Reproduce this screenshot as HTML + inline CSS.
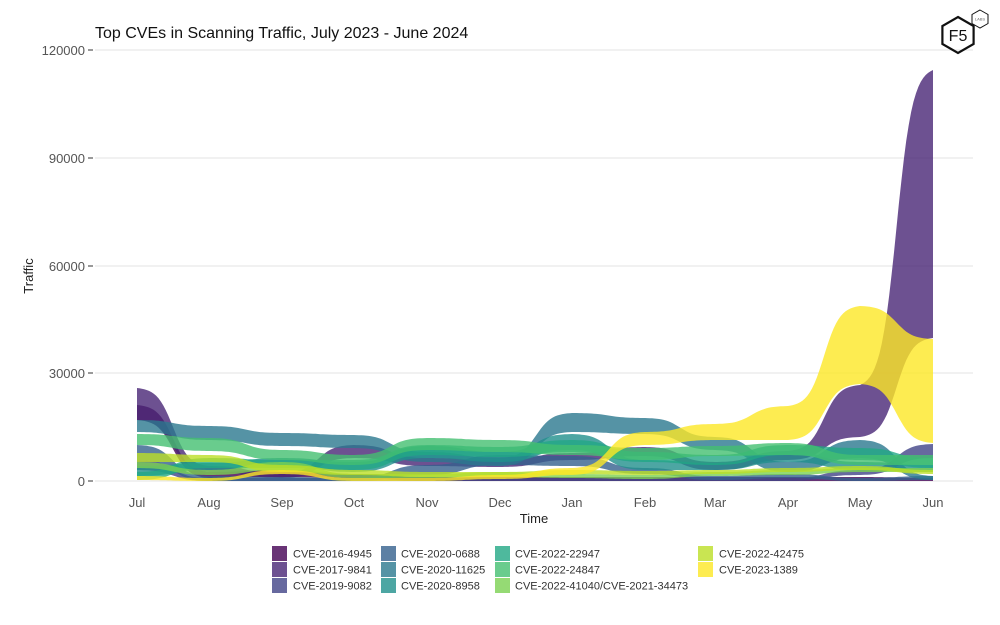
<!DOCTYPE html>
<html><head><meta charset="utf-8"><style>
body{margin:0;background:#fff;}
svg{display:block;font-family:"Liberation Sans",sans-serif;}
</style></head><body>
<svg id="s" width="1000" height="625" viewBox="0 0 1000 625">
<rect width="1000" height="625" fill="#fff"/>
<text x="95" y="38" font-size="16" fill="#111">Top CVEs in Scanning Traffic, July 2023 - June 2024</text>
<g stroke="#e3e3e3" stroke-width="1">
<line x1="95" x2="973" y1="50" y2="50"/><line x1="95" x2="973" y1="158" y2="158"/>
<line x1="95" x2="973" y1="266" y2="266"/><line x1="95" x2="973" y1="373" y2="373"/>
<line x1="95" x2="973" y1="481" y2="481"/>
</g>
<g stroke="#333" stroke-width="1"><line x1="88" x2="93" y1="50" y2="50"/><line x1="88" x2="93" y1="158" y2="158"/><line x1="88" x2="93" y1="266" y2="266"/><line x1="88" x2="93" y1="373" y2="373"/><line x1="88" x2="93" y1="481" y2="481"/></g>
<g font-size="13" fill="#555" text-anchor="end">
<text x="85" y="55">120000</text><text x="85" y="163">90000</text><text x="85" y="271">60000</text><text x="85" y="378">30000</text><text x="85" y="486">0</text>
</g>
<text transform="translate(33,276) rotate(-90)" font-size="13" text-anchor="middle" fill="#222">Traffic</text>
<g font-size="13" fill="#555" text-anchor="middle" id="mx"></g>
<text x="534" y="523" font-size="13" text-anchor="middle" fill="#222">Time</text>
<g id="rib"></g>
<g id="leg" font-size="11" fill="#333"></g>
<g transform="translate(958,35)" fill="none" stroke="#111">
<polygon points="0,-18 15.6,-9 15.6,9 0,18 -15.6,9 -15.6,-9" stroke-width="2.2"/>
<text x="0" y="6" font-size="16" fill="#111" stroke="none" text-anchor="middle">F5</text>
<polygon points="22,-25 30,-20.5 30,-11.5 22,-7 14,-11.5 14,-20.5" fill="#fff" stroke-width="1"/>
<text x="22" y="-14.5" font-size="4" fill="#666" stroke="none" text-anchor="middle">LABS</text>
</g>
</svg>
<script>
var X=[137,209,282,354,427,500,572,645,715,788,860,933];
var M=["Jul","Aug","Sep","Oct","Nov","Dec","Jan","Feb","Mar","Apr","May","Jun"];
var mx=document.getElementById('mx'),h='';
M.forEach(function(m,i){h+='<text x="'+X[i]+'" y="507">'+m+'</text>';});mx.innerHTML=h;
var S=[
["CVE-2016-4945","#440154",[[405,420],[472,478],[470,477],[474,478],[477,481],[477,481],[477,481],[477,481],[477,481],[477,481],[477,481],[478,481]]],
["CVE-2017-9841","#482576",[[388,420],[466,472],[473,478],[445,458],[458,466],[460,467],[453,460],[447,456],[462,470],[451,460],[385,437],[70,338]]],
["CVE-2019-9082","#414487",[[460,470],[478,481],[478,481],[478,481],[478,481],[478,481],[478,481],[478,481],[478,481],[478,481],[470,475],[444,458]]],
["CVE-2020-0688","#35608D",[[445,460],[476,481],[477,481],[478,481],[465,475],[455,465],[456,466],[468,474],[476,480],[474,478],[478,481],[476,480]]],
["CVE-2020-11625","#2A788E",[[420,432],[426,440],[433,446],[435,448],[452,462],[458,466],[413,432],[418,434],[437,450],[462,472],[440,458],[476,480]]],
["CVE-2020-8958","#21908C",[[466,476],[463,470],[458,466],[462,472],[446,458],[452,462],[434,450],[460,470],[463,470],[452,462],[462,470],[465,472]]],
["CVE-2022-22947","#22A884",[[472,480],[458,468],[460,468],[460,470],[445,455],[447,457],[440,452],[452,462],[455,465],[445,455],[448,460],[458,468]]],
["CVE-2022-24847","#43BF71",[[434,445],[438,451],[450,460],[455,465],[438,450],[440,452],[445,455],[448,460],[446,456],[443,455],[455,465],[455,465]]],
["CVE-2022-41040/CVE-2021-34473","#7AD151",[[462,468],[470,475],[462,470],[474,478],[474,478],[472,477],[474,478],[475,479],[472,476],[470,475],[468,472],[468,472]]],
["CVE-2022-42475","#BBDF27",[[453,462],[455,462],[465,472],[470,475],[472,477],[472,476],[470,474],[471,475],[470,474],[468,472],[466,470],[470,474]]],
["CVE-2023-1389","#FDE725",[[476,480],[478,481],[470,474],[478,481],[478,481],[475,479],[468,475],[432,445],[424,440],[406,440],[306,384],[339,443]]]
];
var K=9,N=30;
function sg(t){var a=1/(1+Math.exp(K*0.5)),b=1/(1+Math.exp(-K*0.5));return (1/(1+Math.exp(-K*(t-0.5)))-a)/(b-a);}
function line(p,k){var out=[[X[0],p[0][k]]];for(var i=1;i<X.length;i++){for(var j=1;j<=N;j++){var t=j/N;out.push([X[i-1]+(X[i]-X[i-1])*t,p[i-1][k]+(p[i][k]-p[i-1][k])*sg(t)]);}}return out;}
var r='';S.forEach(function(s){var p=s[2];var a=line(p,0),b=line(p,1).reverse();
var d='M'+a.concat(b).map(function(q){return q[0].toFixed(1)+','+q[1].toFixed(1);}).join(' L')+' Z';
r+='<path fill="'+s[1]+'" fill-opacity="0.8" d="'+d+'"/>';});
document.getElementById('rib').innerHTML=r;
var cols=[[272,293],[381,401],[495,515],[698,719]],order=[[0,1,2],[3,4,5],[6,7,8],[9,10]],l='';
order.forEach(function(c,ci){c.forEach(function(si,ri){var y=546+ri*16;
l+='<rect x="'+cols[ci][0]+'" y="'+y+'" width="15" height="15" fill="'+S[si][1]+'" fill-opacity="0.8"/>';
l+='<text x="'+cols[ci][1]+'" y="'+(y+11.5)+'">'+S[si][0]+'</text>';});});
document.getElementById('leg').innerHTML=l;
</script>
</body></html>
